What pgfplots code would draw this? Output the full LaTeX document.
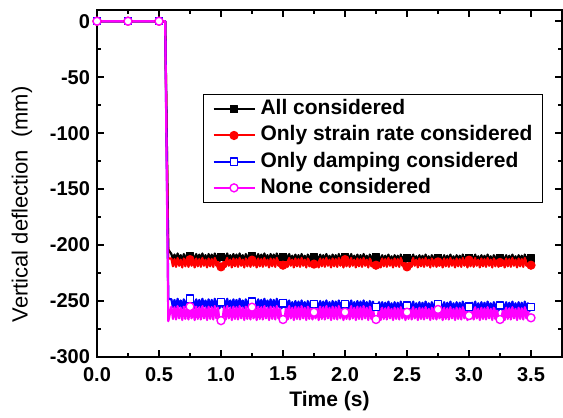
\documentclass[border=0pt]{standalone}
\usepackage{fontspec}
\setmainfont{Liberation Sans}
\usepackage{pgfplots}
\usepackage{pgfplotstable}
\pgfplotsset{compat=1.18}
\definecolor{cRed}{RGB}{255,0,0}
\definecolor{cBlue}{RGB}{0,0,255}
\definecolor{cMag}{RGB}{255,0,255}
\pgfplotstableread{
t blk red blu mag
0 0 0 0 0
0.25 0 0 0 0
0.5 0 0 0 0
0.55 0 0 0 0
0.575 -204 -212 -248 -268
0.6 -208 -212 -248.5 -255
0.6125 -213.5 -219 -255.5 -266
0.625 -208.5 -212.5 -249 -255.5
0.6375 -214 -219.5 -256 -266.5
0.65 -207.5 -211.5 -248 -254.5
0.6625 -213 -218.5 -255 -265.5
0.675 -209 -213 -249.5 -256
0.6875 -214.5 -220 -256.5 -267
0.7 -208 -212 -248.5 -255
0.7125 -213.5 -219 -255.5 -266
0.725 -208.5 -212.5 -249 -255.5
0.7375 -214 -219.5 -256 -266.5
0.75 -210 -213 -248 -255
0.7625 -213 -218.5 -255 -265.5
0.775 -209 -213 -249.5 -256
0.7875 -214.5 -220 -256.5 -267
0.8 -208 -212 -248.5 -255
0.8125 -213.5 -219 -255.5 -266
0.825 -208.5 -212.5 -249 -255.5
0.8375 -214 -219.5 -256 -266.5
0.85 -207.5 -211.5 -248 -254.5
0.8625 -213 -218.5 -255 -265.5
0.875 -209 -213 -249.5 -256
0.8875 -214.5 -220 -256.5 -267
0.9 -208 -212 -248.5 -255
0.9125 -213.5 -219 -255.5 -266
0.925 -208.5 -212.5 -249 -255.5
0.9375 -214 -219.5 -256 -266.5
0.95 -207.5 -211.5 -248 -254.5
0.9625 -213 -218.5 -255 -265.5
0.975 -209 -213 -249.5 -256
0.9875 -214.5 -220 -256.5 -267
1.0 -210.5 -219.5 -251 -267.5
1.0125 -213.5 -219 -255.5 -266
1.025 -208.5 -212.5 -249 -255.5
1.0375 -214 -219.5 -256 -266.5
1.05 -207.5 -211.5 -248 -254.5
1.0625 -213 -218.5 -255 -265.5
1.075 -209 -213 -249.5 -256
1.0875 -214.5 -220 -256.5 -267
1.1 -208 -212 -248.5 -255
1.1125 -213.5 -219 -255.5 -266
1.125 -208.5 -212.5 -249 -255.5
1.1375 -214 -219.5 -256 -266.5
1.15 -207.5 -211.5 -248 -254.5
1.1625 -213 -218.5 -255 -265.5
1.175 -209 -213 -249.5 -256
1.1875 -214.5 -220 -256.5 -267
1.2 -208 -212 -248.5 -255
1.2125 -213.5 -219 -255.5 -266
1.225 -208.5 -212.5 -249 -255.5
1.2375 -214 -219.5 -256 -266.5
1.25 -210 -213.5 -250.5 -255.5
1.2625 -213 -218.5 -255 -265.5
1.275 -209 -213 -249.5 -256
1.2875 -214.5 -220 -256.5 -267
1.3 -208 -212 -248.5 -255
1.3125 -213.5 -219 -255.5 -266
1.325 -208.5 -212.5 -249 -255.5
1.3375 -214 -219.5 -256 -266.5
1.35 -207.5 -211.5 -248 -254.5
1.3625 -213 -218.5 -255 -265.5
1.375 -209 -213 -249.5 -256
1.3875 -214.5 -220 -256.5 -267
1.4 -208 -212 -248.5 -255
1.4125 -213.5 -219 -255.5 -266
1.425 -208.5 -212.5 -249 -255.5
1.4375 -214 -219.5 -256 -266.5
1.45 -207.5 -211.5 -248 -254.5
1.4625 -213 -218.5 -255 -265.5
1.475 -209 -213 -249.5 -256
1.4875 -214.5 -220 -256.5 -267
1.5 -210.5 -218 -252 -266.5
1.5125 -213.5 -219 -255.5 -266
1.525 -208.5 -212.5 -249 -255.5
1.5375 -214 -219.5 -256 -266.5
1.55 -208 -211.5 -249.5 -254.5
1.5625 -213.5 -218.5 -256.5 -265.5
1.575 -209.5 -213 -251 -256
1.5875 -215 -220 -258 -267
1.6 -208.5 -212 -250 -255
1.6125 -214 -219 -257 -266
1.625 -209 -212.5 -250.5 -255.5
1.6375 -214.5 -219.5 -257.5 -266.5
1.65 -208 -211.5 -249.5 -254.5
1.6625 -213.5 -218.5 -256.5 -265.5
1.675 -209.5 -213 -251 -256
1.6875 -215 -220 -258 -267
1.7 -208.5 -212 -250 -255
1.7125 -214 -219 -257 -266
1.725 -209 -212.5 -250.5 -255.5
1.7375 -214.5 -219.5 -257.5 -266.5
1.75 -211 -217 -252.5 -260
1.7625 -213.5 -218.5 -256.5 -265.5
1.775 -209.5 -213 -251 -256
1.7875 -215 -220 -258 -267
1.8 -208.5 -212 -250 -255
1.8125 -214 -219 -257 -266
1.825 -209 -212.5 -250.5 -255.5
1.8375 -214.5 -219.5 -257.5 -266.5
1.85 -208 -211.5 -249.5 -254.5
1.8625 -213.5 -218.5 -256.5 -265.5
1.875 -209.5 -213 -251 -256
1.8875 -215 -220 -258 -267
1.9 -208.5 -212 -250 -255
1.9125 -214 -219 -257 -266
1.925 -209 -212.5 -250.5 -255.5
1.9375 -214.5 -219.5 -257.5 -266.5
1.95 -208 -211.5 -249.5 -254.5
1.9625 -213.5 -218.5 -256.5 -265.5
1.975 -209.5 -213 -251 -256
1.9875 -215 -220 -258 -267
2.0 -211 -213 -253 -260
2.0125 -214 -219 -257 -266
2.025 -209 -212.5 -250.5 -255.5
2.0375 -214.5 -219.5 -257.5 -266.5
2.05 -208 -211.5 -249.5 -254.5
2.0625 -213.5 -218.5 -256.5 -265.5
2.075 -209.5 -213 -251 -256
2.0875 -215 -220 -258 -267
2.1 -208.5 -212 -250 -255
2.1125 -214 -219 -257 -266
2.125 -209 -212.5 -250.5 -255.5
2.1375 -214.5 -219.5 -257.5 -266.5
2.15 -208 -211.5 -249.5 -254.5
2.1625 -213.5 -218.5 -256.5 -265.5
2.175 -209.5 -213 -251 -256
2.1875 -215 -220 -258 -267
2.2 -208.5 -212 -250 -255
2.2125 -214 -219 -257 -266
2.225 -209 -212.5 -250.5 -255.5
2.2375 -214.5 -219.5 -257.5 -266.5
2.25 -211 -218 -255.5 -266.5
2.2625 -213.5 -218.5 -256.5 -265.5
2.275 -209.5 -213 -251 -256
2.2875 -215 -220 -258 -267
2.3 -209 -212 -251 -256
2.3125 -214.5 -219 -258 -266
2.325 -209.5 -212.5 -251.5 -256.5
2.3375 -215 -219.5 -258.5 -266.5
2.35 -208.5 -211.5 -250.5 -255.5
2.3625 -214 -218.5 -257.5 -265.5
2.375 -210 -213 -252 -257
2.3875 -215.5 -220 -259 -267
2.4 -209 -212 -251 -256
2.4125 -214.5 -219 -258 -266
2.425 -209.5 -212.5 -251.5 -256.5
2.4375 -215 -219.5 -258.5 -266.5
2.45 -208.5 -211.5 -250.5 -255.5
2.4625 -214 -218.5 -257.5 -265.5
2.475 -210 -213 -252 -257
2.4875 -215.5 -220 -259 -267
2.5 -211.5 -219.5 -254 -260
2.5125 -214.5 -219 -258 -266
2.525 -209.5 -212.5 -251.5 -256.5
2.5375 -215 -219.5 -258.5 -266.5
2.55 -208.5 -211.5 -250.5 -255.5
2.5625 -214 -218.5 -257.5 -265.5
2.575 -210 -213 -252 -257
2.5875 -215.5 -220 -259 -267
2.6 -209 -212 -251 -256
2.6125 -214.5 -219 -258 -266
2.625 -209.5 -212.5 -251.5 -256.5
2.6375 -215 -219.5 -258.5 -266.5
2.65 -208.5 -211.5 -250.5 -255.5
2.6625 -214 -218.5 -257.5 -265.5
2.675 -210 -213 -252 -257
2.6875 -215.5 -220 -259 -267
2.7 -209 -212 -251 -256
2.7125 -214.5 -219 -258 -266
2.725 -209.5 -212.5 -251.5 -256.5
2.7375 -215 -219.5 -258.5 -266.5
2.75 -211.5 -215 -253 -257.5
2.7625 -214 -218.5 -257.5 -265.5
2.775 -210 -213 -252 -257
2.7875 -215.5 -220 -259 -267
2.8 -209 -212 -251 -256
2.8125 -214.5 -219 -258 -266
2.825 -209.5 -212.5 -251.5 -256.5
2.8375 -215 -219.5 -258.5 -266.5
2.85 -208.5 -211.5 -250.5 -255.5
2.8625 -214 -218.5 -257.5 -265.5
2.875 -210 -213 -252 -257
2.8875 -215.5 -220 -259 -267
2.9 -209 -212 -251 -256
2.9125 -214.5 -219 -258 -266
2.925 -209.5 -212.5 -251.5 -256.5
2.9375 -215 -219.5 -258.5 -266.5
2.95 -208.5 -211.5 -250.5 -255.5
2.9625 -214 -218.5 -257.5 -265.5
2.975 -210 -213 -252 -257
2.9875 -215.5 -220 -259 -267
3.0 -211.5 -213.5 -255 -263
3.0125 -214.5 -219 -258 -266
3.025 -209.5 -212.5 -251.5 -256.5
3.0375 -215 -219.5 -258.5 -266.5
3.05 -208.5 -211.5 -250.5 -255.5
3.0625 -214 -218.5 -257.5 -265.5
3.075 -210 -213 -252 -257
3.0875 -215.5 -220 -259 -267
3.1 -209 -212 -251 -256
3.1125 -214.5 -219 -258 -266
3.125 -209.5 -212.5 -251.5 -256.5
3.1375 -215 -219.5 -258.5 -266.5
3.15 -208.5 -211.5 -250.5 -255.5
3.1625 -214 -218.5 -257.5 -265.5
3.175 -210 -213 -252 -257
3.1875 -215.5 -220 -259 -267
3.2 -209 -212 -251 -256
3.2125 -214.5 -219 -258 -266
3.225 -209.5 -212.5 -251.5 -256.5
3.2375 -215 -219.5 -258.5 -266.5
3.25 -212 -215.5 -254 -266.5
3.2625 -214 -218.5 -257.5 -265.5
3.275 -210 -213 -252 -257
3.2875 -215.5 -220 -259 -267
3.3 -209 -212 -251 -256
3.3125 -214.5 -219 -258 -266
3.325 -209.5 -212.5 -251.5 -256.5
3.3375 -215 -219.5 -258.5 -266.5
3.35 -208.5 -211.5 -250.5 -255.5
3.3625 -214 -218.5 -257.5 -265.5
3.375 -210 -213 -252 -257
3.3875 -215.5 -220 -259 -267
3.4 -209 -212 -251 -256
3.4125 -214.5 -219 -258 -266
3.425 -209.5 -212.5 -251.5 -256.5
3.4375 -215 -219.5 -258.5 -266.5
3.45 -208.5 -211.5 -250.5 -255.5
3.4625 -214 -218.5 -257.5 -265.5
3.475 -210 -213 -252 -257
3.4875 -215.5 -220 -259 -267
3.5 -212 -218 -255.5 -265
}\deflection

\begin{document}
\begin{tikzpicture}
\begin{axis}[
  scale only axis,
  width=232.5pt, height=173.5pt,
  xmin=0, xmax=3.75, ymin=-300, ymax=10,
  clip=false,
  xtick={0,0.5,1,1.5,2,2.5,3,3.5},
  ytick={-300,-250,-200,-150,-100,-50,0},
  minor x tick num=1, minor y tick num=1,
  tick align=inside,
  major tick length=3.5pt, minor tick length=1.8pt,
  axis line style={line width=1pt},
  tick style={black, line width=1pt},
  /pgf/number format/assume math mode=true,
  ticklabel style={font=\fontsize{10}{12}\selectfont\bfseries},
  xticklabel style={yshift=-1.5pt, /pgf/number format/fixed, /pgf/number format/fixed zerofill, /pgf/number format/precision=1},
  xlabel={Time (s)},
  ylabel={Vertical deflection\ \ (mm)},
  xlabel style={font=\fontsize{10.5}{12}\selectfont\bfseries, yshift=2pt},
  ylabel style={font=\fontsize{11}{13}\selectfont, at={(ticklabel cs:0.44)}, yshift=2pt},
  legend image code/.code={\draw[line width=1pt, mark indices={2}] plot coordinates {(0cm,0cm) (0.36cm,0cm) (0.72cm,0cm)};},
  legend cell align=left,
  legend style={at={(0.959,0.758)}, anchor=north east, draw=black, line width=0.5pt,
    font=\fontsize{10.5}{12}\selectfont\bfseries,
    inner xsep=4.5pt, inner ysep=2pt, row sep=2.3pt,
    nodes={inner sep=0.5pt, text height=7.6pt, text depth=2.2pt},
    /tikz/every odd column/.append style={column sep=2pt}},
]
\addplot[black, line width=1.1pt, line join=round, mark=square*, mark size=1.8pt,
  mark options={solid, fill=black, line width=0.6pt},
  mark indices={1,2,3,18,38,58,78,98,118,138,158,178,198,218,238}]
  table[x=t, y=blk] {\deflection};
\addlegendentry{All considered}
\addplot[cRed, line width=1.1pt, line join=round, mark=*, mark size=2pt,
  mark options={solid, fill=cRed, line width=0.6pt},
  mark indices={1,2,3,18,38,58,78,98,118,138,158,178,198,218,238}]
  table[x=t, y=red] {\deflection};
\addlegendentry{Only strain rate considered}
\addplot[cBlue, line width=1.1pt, line join=round, mark=square*, mark size=1.8pt,
  mark options={solid, fill=white, draw=cBlue, line width=0.7pt},
  mark indices={1,2,3,18,38,58,78,98,118,138,158,178,198,218,238}]
  table[x=t, y=blu] {\deflection};
\addlegendentry{Only damping considered}
\addplot[cMag, line width=1.1pt, line join=round, mark=*, mark size=2pt,
  mark options={solid, fill=white, draw=cMag, line width=0.7pt},
  mark indices={1,2,3,18,38,58,78,98,118,138,158,178,198,218,238}]
  table[x=t, y=mag] {\deflection};
\addlegendentry{None considered}
\end{axis}
\path ([shift={(-48.5pt,-30pt)}]current axis.south west) rectangle ([shift={(0.5pt,5pt)}]current axis.north east);
\end{tikzpicture}
\end{document}
